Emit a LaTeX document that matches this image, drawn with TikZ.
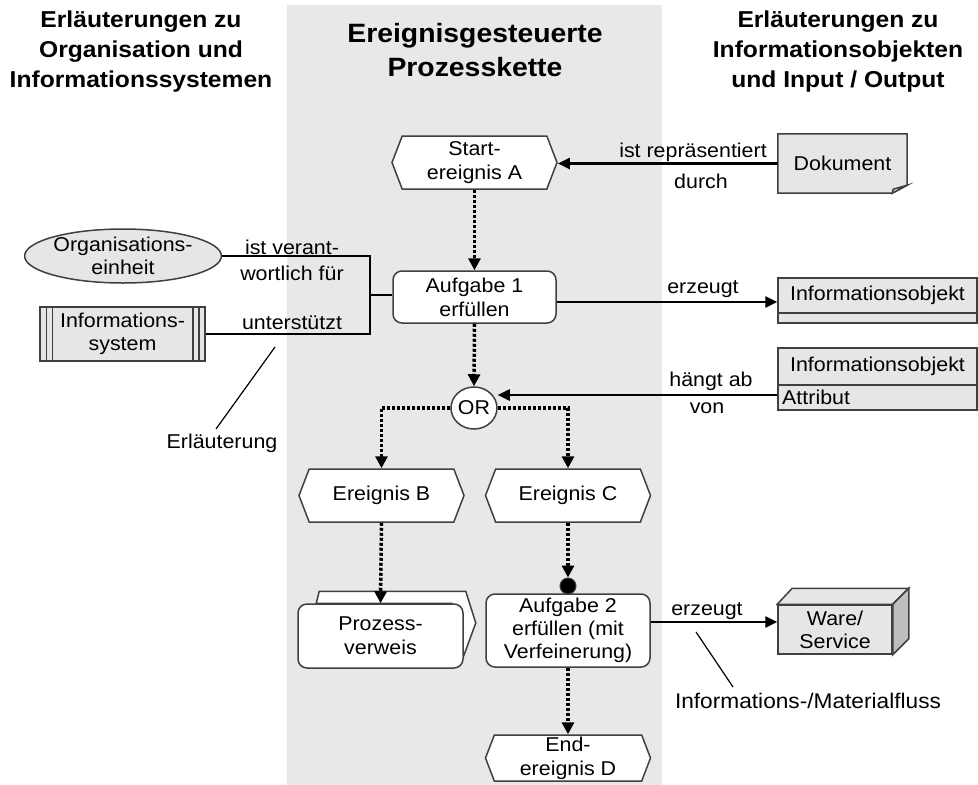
\documentclass[tikz,border=0pt]{standalone}
\usepackage{fontspec}
\setmainfont[FakeStretch=1.07]{Liberation Sans}
\usetikzlibrary{arrows.meta,shapes.geometric,shapes.symbols,calc,backgrounds}
\definecolor{band}{HTML}{E8E8E8}
\definecolor{objfill}{HTML}{E6E6E6}
\definecolor{bord}{HTML}{404040}
\definecolor{sidefill}{HTML}{BEBEBE}
\begin{document}
\begin{tikzpicture}[x=1pt,y=-1pt,
  txt/.style={font=\fontsize{20}{24}\selectfont, align=center, inner sep=0pt, text=black},
  ttl/.style={font=\bfseries\fontsize{23}{30}\selectfont, align=center, inner sep=0pt},
  ttlc/.style={font=\bfseries\fontsize{26.5}{34}\selectfont, align=center, inner sep=0pt},
  bordline/.style={draw=bord, line width=1.5pt},
  evt/.style={txt, shape=signal, signal to=west and east, signal pointer angle=138,
    bordline, fill=white, minimum width=165pt, minimum height=53pt},
  fn/.style={txt, rectangle, rounded corners=9pt, bordline, fill=white,
    minimum width=163pt, minimum height=52pt},
  ornode/.style={txt, ellipse, bordline, fill=white, minimum width=46pt, minimum height=42pt},
  dotnode/.style={circle, fill=black, draw=bord, line width=1pt, minimum size=16pt, inner sep=0pt},
  objell/.style={txt, ellipse, bordline, fill=objfill, minimum width=164pt, minimum height=54pt},
  objrect/.style={txt, rectangle, bordline, fill=objfill},
  ctrl/.style={line width=3.5pt, dash pattern=on 3pt off 2pt, -{Triangle[length=12pt,width=12pt]}},
  flow/.style={line width=2.5pt, -{Triangle[length=12pt,width=11pt]}},
  lead/.style={line width=1.2pt, draw=black}
]
\useasboundingbox (0,0) rectangle (978,785);
\begin{scope}[on background layer]
  \fill[band] (287,5) rectangle (662,785);
\end{scope}

% titles
\node[ttl] (tl) at (141,52) {Erläuterungen zu\\Organisation und\\Informationssystemen};
\node[ttlc] (tc) at (475,50) {Ereignisgesteuerte\\Prozesskette};
\node[ttl] (tr) at (838,52) {Erläuterungen zu\\Informationsobjekten\\und Input / Output};

% chain
\node[evt] (startA) at (474.5,162.5) {Start-\\ereignis A};
\node[fn] (a1) at (474.5,297) {Aufgabe 1\\erfüllen};
\node[ornode] (or) at (474,408) {OR};
\node[evt] (evB) at (381.5,495.5) {Ereignis B};
\node[evt] (evC) at (568,495.5) {Ereignis C};
\node[fn, minimum width=165pt, minimum height=64pt] (pv) at (380.5,636) {Prozess-\\verweis};
\begin{scope}[on background layer]
  \draw[bordline, fill=white] ($(pv.north west)+(19,0)$) -- ($(pv.north west)+(22,-12)$)
    -- ($(pv.north east)+(2,-12)$) -- ($(pv.east)+(12,-13)$) -- ($(pv.south east)+(0,-13)$)
    -- ($(pv.south east)+(-12,-13)$) -- ($(pv.north east)+(-12,0)$) -- cycle;
\end{scope}
\node[fn, minimum width=164pt, minimum height=73pt, font=\fontsize{20}{23}\selectfont] (a2) at (568,630.5) {Aufgabe 2\\erfüllen (mit\\Verfeinerung)};
\node[dotnode] (dot) at (568,586) {};
\node[evt, minimum height=46pt] (evD) at (568,758) {End-\\ereignis D};

% left side
\node[objell, font=\fontsize{20}{23}\selectfont] (org) at (123,256) {Organisations-\\einheit};
\node[objrect, minimum width=165pt, minimum height=54pt, font=\fontsize{20}{23}\selectfont] (isys) at (122.5,334) {Informations-\\system};
\draw[bordline] ($(isys.north west)+(7,0)$) -- ($(isys.south west)+(7,0)$);
\draw[bordline] ($(isys.north west)+(13,0)$) -- ($(isys.south west)+(13,0)$);
\draw[bordline] ($(isys.north east)+(-7,0)$) -- ($(isys.south east)+(-7,0)$);
\draw[bordline] ($(isys.north east)+(-13,0)$) -- ($(isys.south east)+(-13,0)$);
\node[txt, font=\fontsize{20}{26}\selectfont] (lv) at (292,260) {ist verant-\\wortlich für};
\node[txt] (lu) at (292,323) {unterstützt};
\coordinate (jt) at (370,256);
\coordinate (jb) at (370,334);
\coordinate (jm) at (370,295);
\draw[lead] (org.east) -- (jt) -- (jb) -- (isys.east);
\draw[lead] (jm) -- (a1.west |- jm);
\node[txt] (erl) at (222,443) {Erläuterung};
\coordinate (erlA) at (275,347);
\coordinate (erlB) at (216,429);
\draw[lead] (erlA) -- (erlB);

% right side
\node[txt, minimum width=129pt, minimum height=59pt] (doc) at (842.5,163.5) {Dokument};
\begin{scope}[on background layer]
  \draw[bordline, fill=objfill] (doc.north west) -- (doc.north east) -- ($(doc.south east)+(0,-8)$)
    -- ($(doc.south east)+(-15,0)$) -- (doc.south west) -- cycle;
  \draw[bordline, fill=objfill] ($(doc.south east)+(0,-8)$) -- ($(doc.south east)+(-14,-4)$)
    -- ($(doc.south east)+(-15,0)$) -- cycle;
\end{scope}
\node[objrect, minimum width=199pt, minimum height=45pt] (io1) at (877.5,300.5) {};
\coordinate (y313) at (0,313);
\draw[bordline] (io1.west |- y313) -- (io1.east |- y313);
\node[txt] (io1t) at (877.5,295.5) {Informationsobjekt};
\node[objrect, minimum width=199pt, minimum height=62pt] (io2) at (877.5,379) {};
\coordinate (y385) at (0,385);
\draw[bordline] (io2.west |- y385) -- (io2.east |- y385);
\node[txt] (io2t) at (877.5,366.5) {Informationsobjekt};
\node[txt, anchor=west] (io2a) at (782,397) {Attribut};
\node[objrect, minimum width=114pt, minimum height=49pt, font=\fontsize{20}{23}\selectfont] (ware) at (835,629.5) {Ware/\\Service};
\draw[bordline, fill=objfill] (ware.north west) -- ($(ware.north west)+(15,-16)$)
  -- ($(ware.north east)+(16,-16)$) -- (ware.north east) -- cycle;
\draw[bordline, fill=sidefill] (ware.north east) -- ($(ware.north east)+(16,-16)$)
  -- ($(ware.south east)+(16,-16)$) -- (ware.south east) -- cycle;

% control flow
\draw[ctrl] (startA.south) -- (a1.north);
\draw[ctrl] (a1.south) -- (or.north);
\draw[ctrl] (or.west) -| (evB.north);
\draw[ctrl] (or.east) -| (evC.north);
\draw[ctrl] (evB.south) -- (pv.north);
\draw[ctrl] (evC.south) -- (dot.north);
\draw[ctrl] (a2.south) -- (evD.north);

% information flow
\coordinate (y302) at (0,302);
\coordinate (y395) at (0,395);
\coordinate (y622) at (0,622);
\draw[flow] (doc.west) -- (doc.west -| startA.east);
\draw[flow] (a1.east |- y302) -- (io1.west |- y302);
\draw[flow] (io2.west |- y395) -- (or.east |- y395);
\draw[flow] (a2.east |- y622) -- (ware.west |- y622);

\node[txt] (lrep) at (693,152) {ist repräsentiert};
\node[txt] (ldurch) at (701,181) {durch};
\node[txt] (lerz1) at (703,289) {erzeugt};
\node[txt] (lhab) at (711,381) {hängt ab};
\node[txt] (lvon) at (707,408) {von};
\node[txt] (lerz2) at (707,611) {erzeugt};
\node[txt, font=\fontsize{21.2}{24}\selectfont] (lflow) at (808,701) {Informations-/Materialfluss};
\coordinate (flA) at (696,632);
\coordinate (flB) at (733,687);
\draw[lead] (flA) -- (flB);
\end{tikzpicture}
\end{document}
